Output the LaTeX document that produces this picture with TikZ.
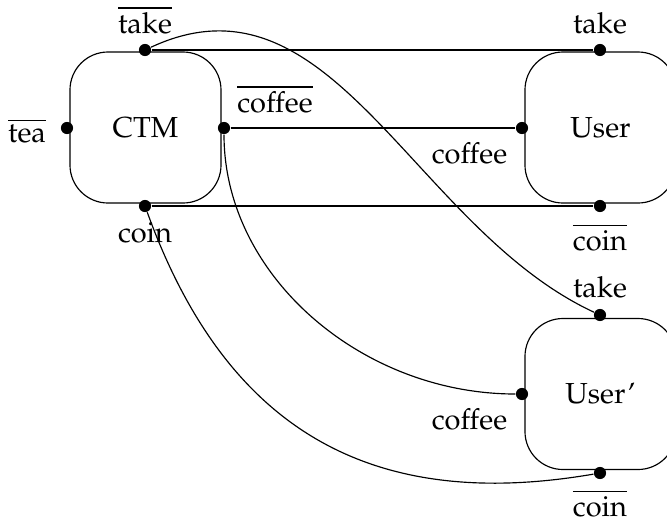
\documentclass[tikz,border=0pt]{standalone}
\usepackage[T1]{fontenc}
\usepackage{mathpazo}
\newcommand{\co}[1]{$\overline{\mbox{#1}}$}
\begin{document}
\begin{tikzpicture}[x=0.345pt,y=-0.345pt,
  agent/.style={draw,rectangle,rounded corners=13.1pt,minimum width=52.1pt,minimum height=52.1pt,inner sep=0pt},
  port/.style={circle,fill=black,inner sep=0pt,minimum size=4.2pt},
  lbl/.style={anchor=base,inner sep=0pt},
  wire/.style={line width=0.4pt}]
\clip (0,0) rectangle (667,527);
% agents
\node[agent] (ctm) at (145.5,127.5) {CTM};
\node[agent] (user) at (600.5,127.5) {User};
\node[agent] (userp) at (600.5,394) {User'};
% ports
\node[port] (ctake) at (145,50) {};
\node[port] (ctea) at (67,128) {};
\node[port] (ccof) at (224,128) {};
\node[port] (ccoin) at (145,206) {};
\node[port] (utake) at (600,50) {};
\node[port] (ucof) at (522,128) {};
\node[port] (ucoin) at (600,206) {};
\node[port] (ptake) at (600,315) {};
\node[port] (pcof) at (522,394) {};
\node[port] (pcoin) at (600,473) {};
% port labels
\node[lbl] (lctake) at (145,33) {\co{take}};
\node[lbl] (lctea) at (27,142) {\co{tea}};
\node[lbl] (lccof) at (275,112) {\co{coffee}};
\node[lbl] (lccoin) at (145,242) {coin};
\node[lbl] (lutake) at (600,33) {take};
\node[lbl] (lucof) at (469.5,163) {coffee};
\node[lbl] (lucoin) at (600,250) {\co{coin}};
\node[lbl] (lptake) at (600,297) {take};
\node[lbl] (lpcof) at (469.5,429) {coffee};
\node[lbl] (lpcoin) at (600,516) {\co{coin}};
% connections
\draw[wire] (ctake) -- (utake);
\draw[wire] (ccof) -- (ucof);
\draw[wire] (ccoin) -- (ucoin);
\draw[wire] (ctake) .. controls (332,-37) and (413,228) .. (ptake);
\draw[wire] (ccof) .. controls (224,276) and (362,394) .. (pcof);
\draw[wire] (ccoin) .. controls (227,432) and (373,512) .. (pcoin);
\end{tikzpicture}
\end{document}
